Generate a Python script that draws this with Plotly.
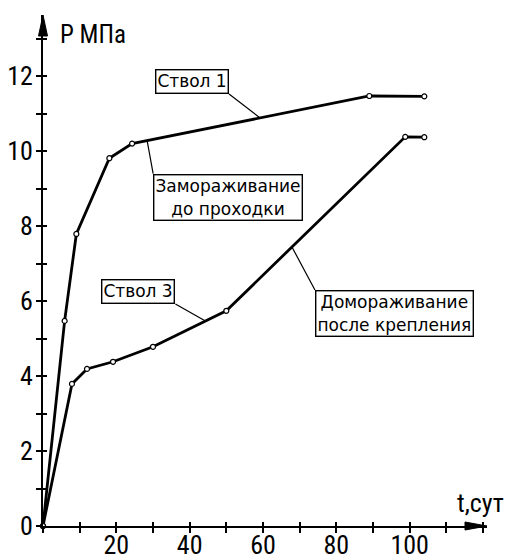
import numpy as np
import plotly.graph_objects as go

# ---- data ----
t_stvol1 = [0, 5.9, 9.1, 18.1, 24.3, 89, 104]
p_stvol1 = [0, 5.47, 7.79, 9.81, 10.2, 11.47, 11.46]

t_stvol3 = [0, 7.9, 12, 19.1, 30, 50, 98.8, 104]
p_stvol3 = [0, 3.79, 4.19, 4.38, 4.78, 5.74, 10.38, 10.37]

x_ticks = [20, 40, 60, 80, 100]
y_ticks = [0, 2, 4, 6, 8, 10, 12]

x_title = "t,сут"
y_title = "Р МПа"

# callouts: (text, series, t on the line, tail offset px, xanchor, yanchor)
callouts = [
    ("Ствол 1", "s1", 59.2, (-31, -24), "right", "bottom"),
    ("Замораживание<br>до проходки", "s1", 28.4, (6, 33), "left", "top"),
    ("Ствол 3", "s3", 44.3, (-30, -17), "right", "bottom"),
    ("Домораживание<br>после крепления", "s3", 67.9, (23, 43), "left", "top"),
]

X_MAX = 121.1
Y_MAX = 13.63

TICK_FONT = dict(family="Roboto Condensed, DejaVu Sans Condensed, sans-serif", size=26, color="black")
BOX_FONT = dict(family="DejaVu Sans, sans-serif", size=17, color="black")

fig = go.Figure()

line_style = dict(color="black", width=2.8)
marker_style = dict(symbol="circle", size=5, color="white", line=dict(color="black", width=1.2))

fig.add_trace(go.Scatter(x=t_stvol1, y=p_stvol1, mode="lines+markers", line=line_style,
                         marker=marker_style, cliponaxis=False, showlegend=False, name="Ствол 1"))
fig.add_trace(go.Scatter(x=t_stvol3, y=p_stvol3, mode="lines+markers", line=line_style,
                         marker=marker_style, cliponaxis=False, showlegend=False, name="Ствол 3"))
# dummy trace for overlay axes (inner tick halves)
fig.add_trace(go.Scatter(x=[], y=[], xaxis="x2", yaxis="y2", showlegend=False))

series = {"s1": (t_stvol1, p_stvol1), "s3": (t_stvol3, p_stvol3)}
for text, s, tc, (ax, ay), xa, ya in callouts:
    ts, ps = series[s]
    pc = float(np.interp(tc, ts, ps))
    fig.add_annotation(x=tc, y=pc, xref="x", yref="y", text=text, showarrow=True,
                       arrowhead=0, arrowwidth=1.2, arrowcolor="black", ax=ax, ay=ay,
                       xanchor=xa, yanchor=ya, bordercolor="black", borderwidth=1.4,
                       borderpad=1, bgcolor="white", font=BOX_FONT, align="center", standoff=0)

# axis titles
fig.add_annotation(x=13.6, y=13.12, xref="x", yref="y", text=y_title, showarrow=False,
                   font=dict(TICK_FONT, size=25), xanchor="center", yanchor="middle")
fig.add_annotation(x=119.4, y=0.61, xref="x", yref="y", text=x_title, showarrow=False,
                   font=dict(TICK_FONT, size=26), xanchor="center", yanchor="middle")

# axis arrowheads
fig.add_shape(type="path", xref="x domain", yref="y domain", xsizemode="pixel", ysizemode="pixel",
              xanchor=0, yanchor=1, path="M -4.5,-21 L 0,0 L 4.5,-21 Z",
              fillcolor="black", line=dict(color="black", width=1))
fig.add_shape(type="path", xref="x domain", yref="y domain", xsizemode="pixel", ysizemode="pixel",
              xanchor=1, yanchor=0, path="M -22,-4 L 0,0 L -22,4 Z",
              fillcolor="black", line=dict(color="black", width=1))

common_axis = dict(showgrid=False, zeroline=False, showline=True, linecolor="black", linewidth=1.8,
                   tickcolor="black", tickwidth=1.5, ticklen=5)

fig.update_layout(
    width=515, height=557,
    margin=dict(l=43, r=28, t=15, b=31, autoexpand=False),
    paper_bgcolor="white", plot_bgcolor="white",
    xaxis=dict(common_axis, range=[0, X_MAX], tickvals=x_ticks, ticks="outside",
               minor=dict(dtick=10, tick0=0, ticks="outside", ticklen=5, tickwidth=1.5, tickcolor="black"),
               tickfont=TICK_FONT, ticklabelstandoff=-10),
    yaxis=dict(common_axis, range=[0, Y_MAX], tickvals=y_ticks, ticks="outside",
               minor=dict(dtick=1, tick0=0, ticks="outside", ticklen=5, tickwidth=1.5, tickcolor="black"),
               tickfont=TICK_FONT, ticklabelstandoff=-2),
    xaxis2=dict(range=[0, X_MAX], overlaying="x", anchor="y2", showgrid=False, zeroline=False,
                showline=False, tickmode="linear", tick0=10, dtick=10, ticks="inside", ticklen=4,
                tickwidth=1.5, tickcolor="black", showticklabels=False),
    yaxis2=dict(range=[0, Y_MAX], overlaying="y", anchor="x2", showgrid=False, zeroline=False,
                showline=False, tickmode="linear", tick0=1, dtick=1, ticks="inside", ticklen=4,
                tickwidth=1.5, tickcolor="black", showticklabels=False),
)

# remove the default 8px page margin so the figure fills the window exactly
fig.write_html("out.html", config={"displayModeBar": False},
               post_script="document.body.style.margin='0px';")
